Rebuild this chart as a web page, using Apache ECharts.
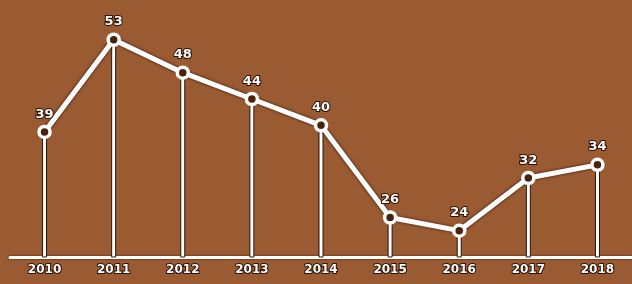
<!DOCTYPE html>
<html>
<head>
<meta charset="utf-8">
<script src="https://cdn.jsdelivr.net/npm/echarts@6/dist/echarts.min.js"></script>
<style>
  html, body { margin: 0; padding: 0; background: #9a5a32; }
  #chart { width: 632px; height: 284px; }
</style>
</head>
<body>
<div id="chart"></div>
<script>
// 年份与数值
var years = ['2010', '2011', '2012', '2013', '2014', '2015', '2016', '2017', '2018'];
var values = [39, 53, 48, 44, 40, 26, 24, 32, 34];

(function () {
    var 描边色 = '#2b1206';

    var option = {
        backgroundColor: '#9a5a32',
        animation: false,
        grid: { left: 10, top: 20, width: 625, bottom: 27 },
        xAxis: {
            type: 'category',
            data: years,
            boundaryGap: true,
            axisTick: { show: false },
            axisLine: {
                lineStyle: { color: '#ffffff', width: 3, shadowColor: 描边色, shadowBlur: 2 }
            },
            axisLabel: {
                color: '#ffffff',
                fontFamily: 'DejaVu Sans',
                fontWeight: 'bold',
                fontSize: 12,
                margin: 7,
                textBorderColor: 描边色,
                textBorderWidth: 2
            }
        },
        yAxis: {
            type: 'value',
            min: 20,
            max: 56,
            show: false
        },
        series: [
            {
                // 竖线
                type: 'bar',
                data: values,
                barWidth: 5,
                clip: true,
                itemStyle: { color: '#ffffff', borderColor: 描边色, borderWidth: 1 },
                z: 1
            },
            {
                type: 'line',
                data: values,
                symbol: 'circle',
                symbolSize: 11,
                lineStyle: { color: '#ffffff', width: 5, shadowColor: 描边色, shadowBlur: 3 },
                itemStyle: { color: '#4a220c', borderColor: '#ffffff', borderWidth: 3.5 },
                label: {
                    show: true,
                    position: 'top',
                    distance: 4,
                    color: '#ffffff',
                    fontFamily: 'DejaVu Sans',
                    fontWeight: 'bold',
                    fontSize: 13,
                    textBorderColor: 描边色,
                    textBorderWidth: 2
                },
                z: 3
            }
        ]
    };

    var myechart = echarts.init(document.getElementById('chart'));
    myechart.setOption(option);
})();
</script>
</body>
</html>
